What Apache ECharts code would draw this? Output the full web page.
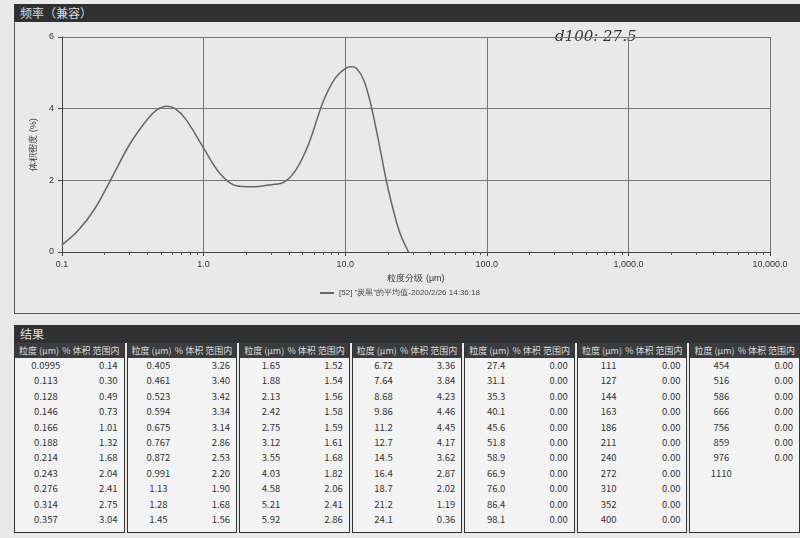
<!DOCTYPE html>
<html><head><meta charset="utf-8">
<script src="https://cdn.jsdelivr.net/npm/echarts@6/dist/echarts.min.js"></script>
<style>
body{margin:0;width:800px;height:538px;background:#e8e9e8;font-family:"Noto Sans CJK SC","Noto Sans",sans-serif;overflow:hidden;position:relative}
#bar1{position:absolute;left:14px;top:4px;width:786px;height:18px;background:#2f3132;color:#ddd;font-size:12px;line-height:18px;padding-left:6px;box-sizing:border-box}
#chart{position:absolute;left:0;top:0;width:800px;height:320px}
#frame{position:absolute;left:14px;top:22px;width:786px;height:292px;border-left:1px solid #555;border-bottom:1px solid #555;box-sizing:border-box}
#bar2{position:absolute;left:14px;top:325px;width:786px;height:18px;background:#2f3132;color:#ddd;font-size:12px;line-height:18px;padding-left:6px;box-sizing:border-box}
#tbl{position:absolute;left:14px;top:343px;width:786px;height:190px;display:flex;gap:2px}
.g{flex:1;border:1px solid #333;border-top:none;display:flex;flex-direction:column;background:#f2f3f2}
.h{background:#3a3c3d;color:#ddd;font-size:9px;height:15px;display:flex;justify-content:space-between;padding:0 4px;line-height:15px}
.r{display:flex;justify-content:space-between;font-size:9.5px;color:#333;height:15.4px;line-height:15.4px;padding:0 6px 0 10px}
.r span:first-child{width:45%;text-align:center}
</style></head><body>
<div id="frame"></div>
<div id="chart"></div>
<div id="bar1">频率（兼容）</div>
<div id="bar2">结果</div>
<div id="tbl"></div>
<script>
const curveX=[0.1,0.13,0.17,0.22,0.3,0.4,0.47,0.55,0.63,0.75,1.0,1.3,1.7,2.2,3.0,3.7,4.5,5.5,7,8.5,10,11,12,13.5,15,17,20,24,28];
const curveY=[0.2,0.6,1.2,2.0,3.0,3.7,3.97,4.07,4.0,3.7,2.9,2.2,1.85,1.82,1.88,1.95,2.3,3.0,4.2,4.85,5.12,5.17,5.13,4.8,4.2,3.2,1.8,0.6,0.0];
const sizes=[
[0.0995,0.113,0.128,0.146,0.166,0.188,0.214,0.243,0.276,0.314,0.357],
[0.405,0.461,0.523,0.594,0.675,0.767,0.872,0.991,1.13,1.28,1.45],
[1.65,1.88,2.13,2.42,2.75,3.12,3.55,4.03,4.58,5.21,5.92],
[6.72,7.64,8.68,9.86,11.2,12.7,14.5,16.4,18.7,21.2,24.1],
[27.4,31.1,35.3,40.1,45.6,51.8,58.9,66.9,'76.0',86.4,98.1],
[111,127,144,163,186,211,240,272,310,352,400],
[454,516,586,666,756,859,976,1110]];
const vols=[
['0.14','0.30','0.49','0.73','1.01','1.32','1.68','2.04','2.41','2.75','3.04'],
['3.26','3.40','3.42','3.34','3.14','2.86','2.53','2.20','1.90','1.68','1.56'],
['1.52','1.54','1.56','1.58','1.59','1.61','1.68','1.82','2.06','2.41','2.86'],
['3.36','3.84','4.23','4.46','4.45','4.17','3.62','2.87','2.02','1.19','0.36'],
Array(11).fill('0.00'),Array(11).fill('0.00'),
['0.00','0.00','0.00','0.00','0.00','0.00','0.00','']];
const xTicks={0.1:'0.1',1:'1.0',10:'10.0',100:'100.0',1000:'1,000.0',10000:'10,000.0'};
const legendName='[52] "炭黑"的平均值-2020/2/26 14:36:18';

let html='';
sizes.forEach((col,i)=>{
  html+='<div class="g"><div class="h"><span>粒度 (μm)</span><span>% 体积 范围内</span></div>';
  col.forEach((s,j)=>{html+=`<div class="r"><span>${s}</span><span>${vols[i][j]}</span></div>`;});
  html+='</div>';
});
document.getElementById('tbl').innerHTML=html;

const c=echarts.init(document.getElementById('chart'));
c.setOption({
  animation:false,
  grid:{left:62,right:30,top:37,bottom:68},
  legend:{bottom:18,left:'center',itemWidth:14,itemHeight:2,icon:'rect',textStyle:{fontSize:8,color:'#444'},data:[legendName]},
  xAxis:{type:'log',logBase:10,min:0.1,max:10000,name:'粒度分级 (μm)',nameLocation:'middle',nameGap:20,nameTextStyle:{fontSize:9,color:'#333'},
    axisLine:{lineStyle:{color:'#444'}},axisTick:{inside:false,length:4,lineStyle:{color:'#444'}},
    minorTick:{show:true,splitNumber:9,length:3,lineStyle:{color:'#555'}},
    axisLabel:{fontSize:9,color:'#333',formatter:v=>xTicks[v]||''},
    splitLine:{show:true,lineStyle:{color:'#777'}}},
  yAxis:{type:'value',min:0,max:6,interval:2,name:'体积密度 (%)',nameLocation:'middle',nameGap:22,nameTextStyle:{fontSize:9,color:'#333'},
    axisLine:{show:true,lineStyle:{color:'#444'}},axisTick:{show:true,length:4},
    axisLabel:{fontSize:9,color:'#333'},splitLine:{lineStyle:{color:'#777'}}},
  graphic:[{type:'text',left:555,top:30,style:{text:'d100: 27.5',font:'italic 15px "DejaVu Serif"',fill:'#333'}}],
  series:[{name:legendName,type:'line',smooth:0.35,symbol:'none',data:curveX.map((x,i)=>[x,curveY[i]]),lineStyle:{color:'#666',width:1.5},itemStyle:{color:'#666'}}]
});
</script></body></html>
